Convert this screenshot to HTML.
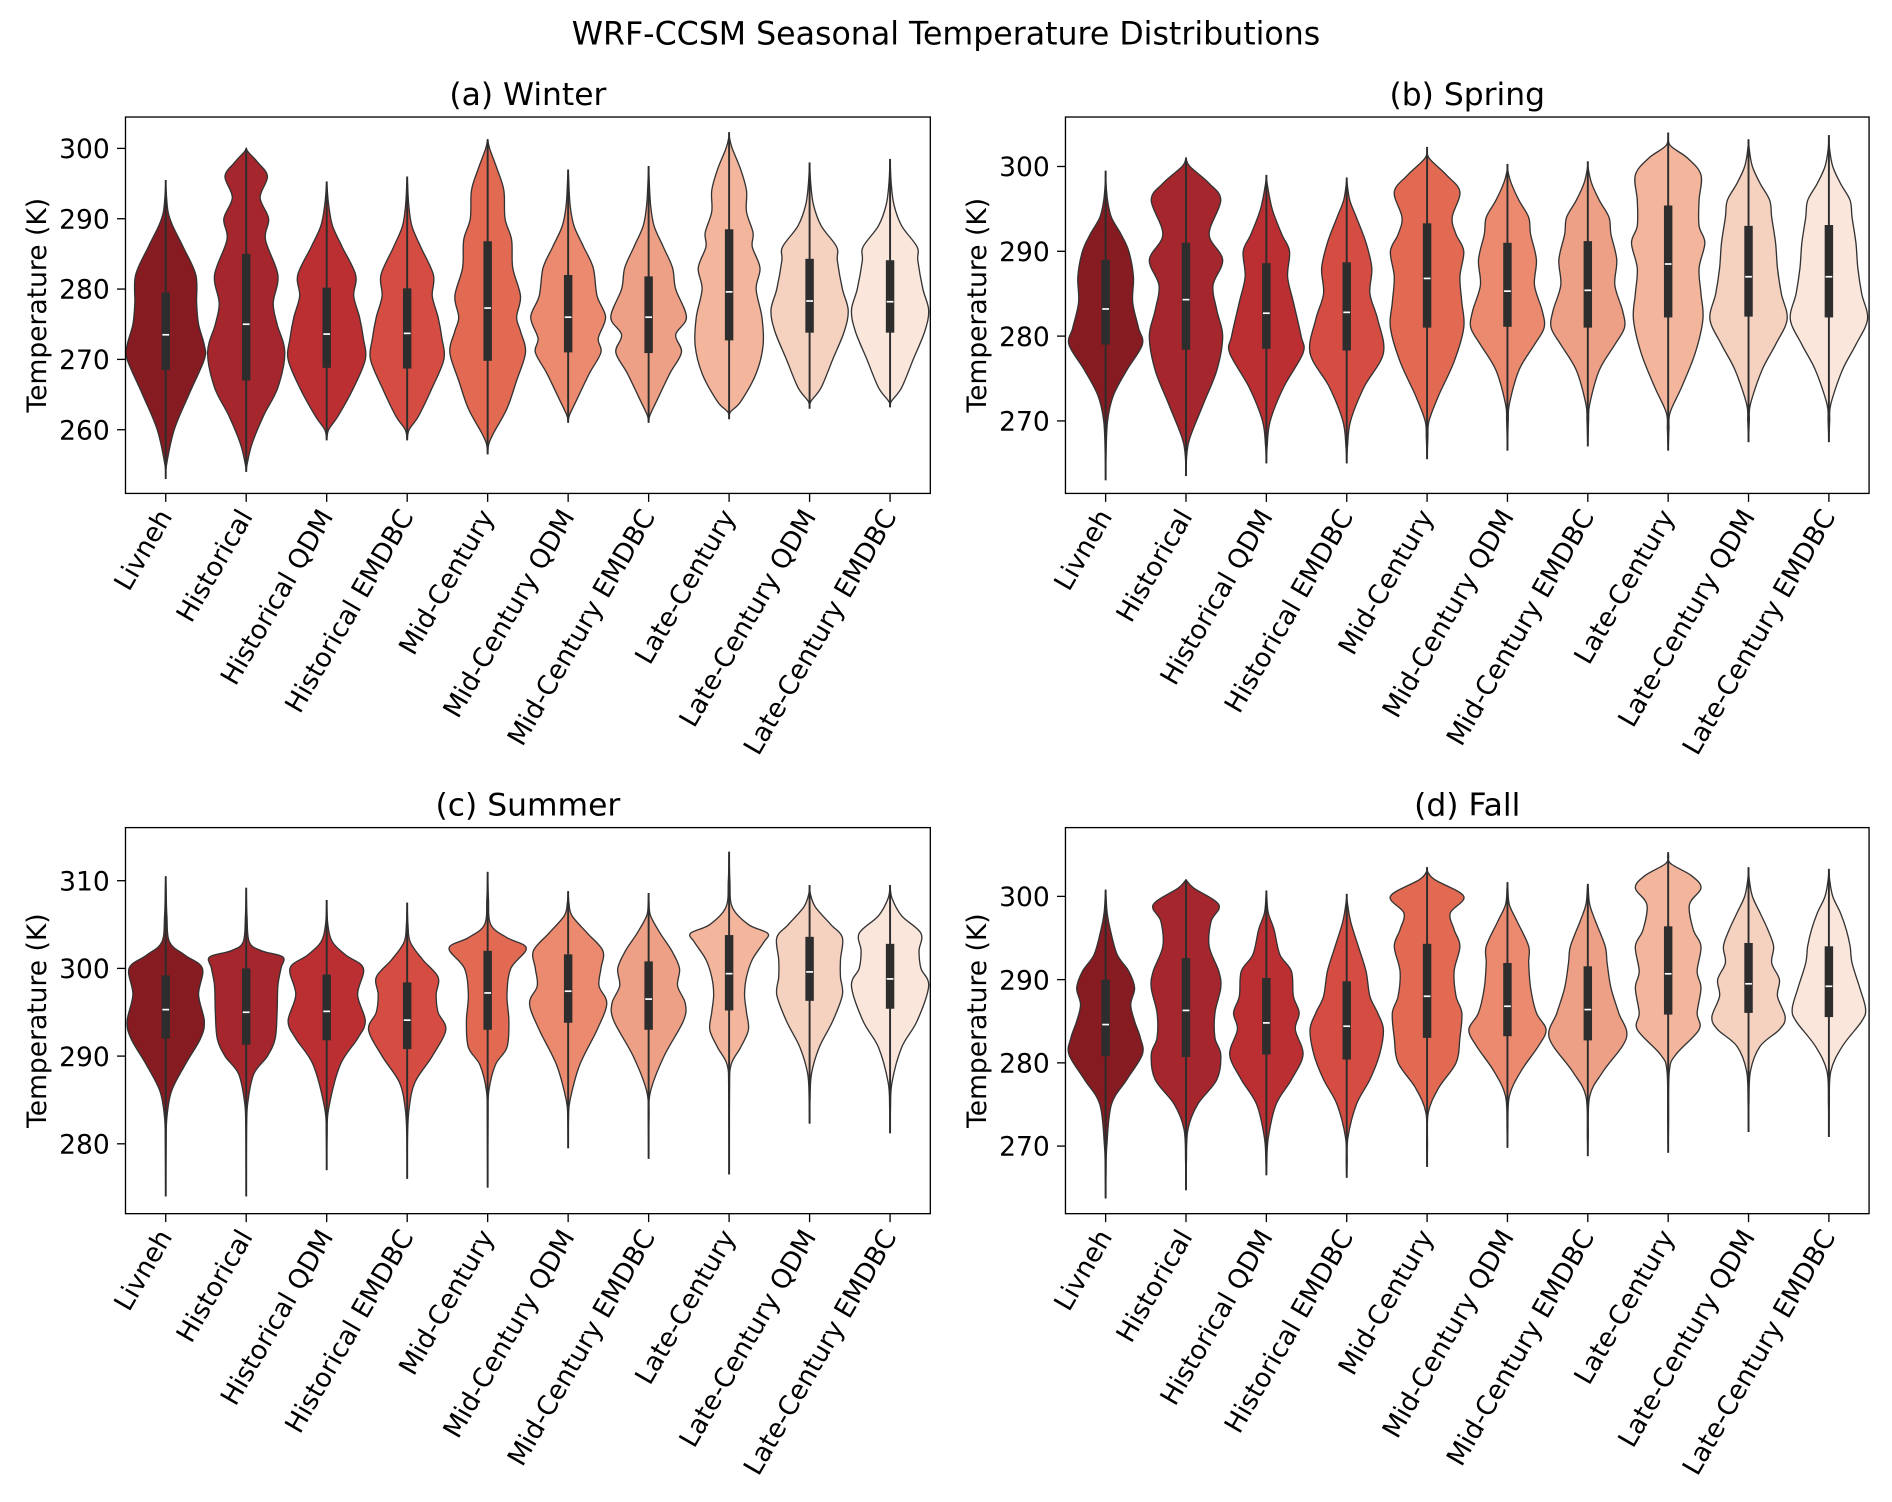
<!DOCTYPE html>
<html><head><meta charset="utf-8"><style>
html,body{margin:0;padding:0;background:#fff}
svg{display:block}
text{font-family:"DejaVu Sans","Liberation Sans",sans-serif;fill:#000}
</style></head><body>
<svg id="fig" width="1892" height="1502" viewBox="0 0 1568 1245" preserveAspectRatio="none" xmlns="http://www.w3.org/2000/svg">
<rect width="1568" height="1245" fill="#fff"/>
<text x="784" y="37" font-size="26.2" text-anchor="middle">WRF-CCSM Seasonal Temperature Distributions</text>
</svg>
<script>
const categories=["Livneh","Historical","Historical QDM","Historical EMDBC","Mid-Century","Mid-Century QDM","Mid-Century EMDBC","Late-Century","Late-Century QDM","Late-Century EMDBC"];
const colors=["#861b22","#a5262d","#bb2f33","#d54c43","#e26a52","#eb8a6e","#eea086","#f3b69c","#f5d1c0","#fbe6dc"];
const panelTitles=["(a) Winter","(b) Spring","(c) Summer","(d) Fall"];
const yTicks=[[260,270,280,290,300],[270,280,290,300],[280,290,300,310],[270,280,290,300]];
// [min, q1, median, q3, max]
const winterStats=[[253,268.5,273.5,279.5,295.5],[254,267,275,285,300],[258.5,268.8,273.6,280.2,295.3],[258.5,268.7,273.7,280.1,296],[256.5,269.8,277.3,286.8,301.3],[261,271,276,282,297],[261,270.9,276,281.8,297.5],[261.5,272.7,279.6,288.5,302.3],[263,273.8,278.3,284.3,298],[263.2,273.8,278.2,284.1,298.5]];
const springStats=[[263,279,283.2,289,299.5],[263.5,278.4,284.3,291,301],[265,278.5,282.7,288.6,299],[265,278.3,282.8,288.7,298.7],[265.5,281,286.8,293.3,302.3],[266.5,281.1,285.3,291,300.3],[267,281,285.4,291.2,300.6],[266.5,282.2,288.5,295.4,304],[267.5,282.3,287,293,303.2],[267.5,282.2,287,293.1,303.7]];
const summerStats=[[274,292,295.3,299.2,310.5],[274,291.3,295,300,309.2],[277,291.8,295.1,299.3,307.8],[276,290.8,294.1,298.4,307.5],[275,293,297.2,302,311],[279.5,293.8,297.4,301.6,308.8],[278.3,293,296.5,300.8,308.6],[276.5,295.2,299.4,303.8,313.3],[282.3,296.3,299.6,303.6,309.5],[281.2,295.4,298.8,302.8,309.5]];
const fallStats=[[263.7,280.8,284.6,290,300.8],[264.7,280.7,286.3,292.6,302],[266.5,281,284.8,290.2,300.7],[266.2,280.4,284.4,289.8,300.3],[267.5,283,288,294.3,303.5],[269.8,283.2,286.8,292,301.7],[268.8,282.7,286.4,291.6,301.5],[269.2,285.8,290.7,296.4,305.3],[271.7,286,289.5,294.4,303.5],[271.1,285.5,289.2,294,303.3]];
// density profiles: [temperature, relative density]
const winterDensity=[
[[255,0.02],[260,0.22],[265,0.6],[270,1.0],[272,1.0],[275,0.85],[278,0.8],[282,0.78],[286,0.45],[289,0.18],[291,0.06],[294,0.01]],
[[255,0.02],[258,0.15],[262,0.45],[266,0.82],[271,1.0],[275,0.8],[278,0.7],[282,0.82],[287,0.5],[290,0.58],[293,0.36],[296,0.55],[298,0.3],[299.5,0.05]],
[[260,0.05],[262,0.3],[266,0.7],[270,1.0],[273,0.95],[276,0.85],[279,0.7],[282,0.75],[286,0.4],[289,0.15],[292,0.05],[294.5,0.01]],
[[260,0.05],[262,0.3],[266,0.65],[270,0.95],[273,0.9],[276,0.8],[279,0.65],[282,0.68],[286,0.35],[289,0.12],[292,0.04],[295,0.01]],
[[258,0.03],[259.5,0.15],[263,0.5],[267,0.75],[271,0.98],[274,0.85],[276,0.75],[279,0.85],[283,0.65],[287,0.62],[290,0.45],[294,0.42],[297,0.25],[300,0.05]],
[[262,0.03],[264,0.2],[268,0.55],[271,0.85],[273,0.78],[276,0.97],[279,0.75],[283,0.65],[286,0.4],[289,0.15],[292,0.05],[296,0.01]],
[[262,0.03],[264,0.2],[268,0.55],[271,0.85],[273.5,0.7],[276,0.98],[280,0.7],[283,0.62],[286,0.38],[289,0.14],[292,0.05],[296,0.01]],
[[262.5,0.03],[264,0.3],[268,0.7],[272,0.88],[276,0.85],[280,0.7],[283,0.8],[286,0.6],[288,0.62],[291,0.45],[294,0.45],[297,0.3],[300,0.08],[301.5,0.01]],
[[264,0.03],[266,0.3],[270,0.6],[274,0.9],[277,1.0],[280,0.85],[284,0.72],[286,0.7],[289,0.3],[292,0.1],[295,0.03]],
[[264,0.03],[266,0.3],[270,0.6],[274,0.9],[277,1.0],[280,0.85],[284,0.72],[286,0.7],[289,0.3],[292,0.1],[295,0.03]]];
const springDensity=[
[[266,0.01],[270,0.05],[273,0.2],[276,0.55],[279,0.95],[281,0.85],[284,0.7],[287,0.72],[290,0.6],[292,0.4],[294,0.15],[296,0.05],[298,0.01]],
[[266,0.02],[268,0.1],[272,0.45],[276,0.8],[280,0.95],[283,0.8],[286,0.7],[289,0.95],[292,0.6],[296,0.9],[298,0.6],[300,0.1]],
[[267,0.02],[270,0.1],[274,0.45],[278,0.95],[280,0.9],[284,0.7],[287,0.55],[290,0.6],[292,0.4],[295,0.15],[298,0.02]],
[[267,0.02],[270,0.1],[274,0.45],[278,0.95],[282,0.8],[285,0.6],[288,0.65],[291,0.5],[294,0.25],[296,0.08],[298,0.01]],
[[268,0.02],[270,0.05],[273,0.3],[277,0.7],[281,0.95],[284,0.9],[287,0.85],[290,0.95],[292,0.75],[294,0.65],[297,0.85],[299,0.5],[301,0.05]],
[[270,0.02],[272,0.05],[276,0.3],[279,0.7],[281,0.95],[283,0.9],[286,0.7],[289,0.75],[292,0.6],[294,0.55],[296,0.3],[298,0.1],[299.5,0.01]],
[[270,0.02],[272,0.05],[276,0.3],[279,0.7],[281,0.95],[283,0.9],[286,0.7],[289,0.75],[292,0.6],[294,0.55],[296,0.3],[298,0.1],[299.8,0.01]],
[[269,0.02],[271,0.05],[274,0.35],[278,0.7],[282,0.9],[285,0.85],[288,0.8],[291,0.95],[293,0.8],[296,0.8],[299,0.85],[301,0.5],[302.5,0.05]],
[[270,0.02],[272,0.05],[276,0.35],[279,0.7],[282,1.0],[285,0.85],[288,0.75],[291,0.7],[294,0.6],[296,0.55],[298,0.3],[300,0.1],[302,0.02]],
[[270,0.02],[272,0.05],[276,0.35],[279,0.7],[282,1.0],[285,0.85],[288,0.75],[291,0.7],[294,0.6],[296,0.55],[298,0.3],[300,0.1],[302,0.02]]];
const summerDensity=[
[[280,0.01],[283,0.03],[286,0.15],[289,0.5],[292,0.9],[294,1.0],[297,0.85],[300,0.95],[301.5,0.5],[303,0.1],[306,0.03],[309,0.01]],
[[282,0.01],[285,0.05],[288,0.2],[290,0.55],[292,0.75],[295,0.8],[298,0.82],[300,0.9],[301.3,0.95],[302,0.4],[303,0.08],[306,0.02]],
[[281,0.01],[284,0.05],[289,0.35],[292,0.8],[294,1.0],[297,0.8],[300,0.95],[301.5,0.5],[303,0.15],[305,0.03]],
[[281,0.01],[284,0.05],[287,0.2],[290,0.65],[293,1.0],[295,0.8],[297,0.75],[299,0.8],[301,0.4],[303,0.08],[305,0.02]],
[[283,0.01],[286,0.03],[289,0.2],[291,0.5],[294,0.55],[297,0.5],[300,0.6],[302.3,1.0],[303.5,0.5],[305,0.08],[308,0.02]],
[[283,0.01],[285,0.05],[289,0.3],[293,0.75],[296,1.0],[298,0.8],[300,0.85],[302,0.9],[304,0.5],[306,0.1],[307.5,0.02]],
[[283,0.01],[286,0.05],[290,0.4],[294,0.9],[296,0.95],[298,0.75],[300,0.8],[302,0.6],[304,0.3],[306,0.05],[307.5,0.01]],
[[286,0.01],[289,0.05],[291,0.3],[293,0.5],[295,0.45],[297,0.4],[299,0.45],[301,0.6],[303,0.9],[304,1.0],[305,0.5],[307,0.08],[310,0.02]],
[[285,0.01],[288,0.05],[291,0.25],[294,0.6],[297,0.85],[299,0.8],[301,0.8],[303.5,0.85],[305,0.55],[307,0.15],[308.5,0.02]],
[[284,0.01],[287,0.05],[291,0.3],[294,0.7],[298,1.0],[300,0.8],[302,0.75],[304,0.8],[306,0.3],[308,0.05]]];
const fallDensity=[
[[267,0.01],[270,0.03],[275,0.15],[278,0.55],[281,0.95],[283,0.9],[285,0.75],[287,0.65],[289,0.75],[291,0.6],[293,0.3],[296,0.12],[298,0.04],[300,0.01]],
[[268,0.01],[272,0.05],[275,0.3],[278,0.8],[281,0.9],[283,0.75],[286,0.75],[289,0.9],[291,0.85],[294,0.6],[297,0.65],[299,0.85],[301,0.2]],
[[268,0.01],[271,0.05],[275,0.25],[278,0.65],[281,0.95],[284,0.75],[286,0.85],[288,0.7],[291,0.65],[293,0.35],[296,0.2],[298,0.05],[300,0.01]],
[[268,0.01],[271,0.03],[275,0.25],[278,0.6],[281,0.85],[284,0.95],[286,0.8],[288,0.6],[291,0.5],[294,0.3],[297,0.1],[299.5,0.01]],
[[270,0.01],[274,0.03],[277,0.3],[280,0.75],[283,0.85],[286,0.9],[288,0.75],[291,0.7],[294,0.85],[296,0.7],[298,0.6],[300,0.95],[302,0.2],[303,0.01]],
[[272,0.01],[276,0.05],[279,0.35],[282,0.8],[284,1.0],[286,0.75],[289,0.6],[292,0.55],[294,0.55],[297,0.25],[299,0.05],[301,0.01]],
[[271,0.01],[276,0.05],[279,0.4],[283,1.0],[286,0.8],[289,0.6],[292,0.5],[294,0.45],[297,0.2],[299,0.05],[301,0.01]],
[[273,0.01],[279,0.03],[281,0.2],[284,0.8],[286,0.75],[289,0.85],[291,0.75],[294,0.85],[296,0.65],[299,0.55],[301,0.85],[302.5,0.6],[304,0.05]],
[[275,0.01],[279,0.05],[282,0.3],[284,0.8],[285.5,0.95],[288,0.75],[290,0.8],[292,0.6],[294,0.65],[296,0.5],[298,0.3],[300,0.1],[302,0.02]],
[[275,0.01],[279,0.05],[282,0.35],[285,0.85],[286.5,0.95],[289,0.8],[292,0.6],[294,0.55],[296,0.45],[298,0.3],[300,0.1],[302,0.02]]];

const NS="http://www.w3.org/2000/svg";
const svg=document.getElementById('fig');
const panels=[
 {x0:104,x1:771,y0:97,y1:409,refT:300,refY:123,per10:58.3,stats:winterStats,dens:winterDensity,ticks:yTicks[0],title:panelTitles[0],key:'winter'},
 {x0:883,x1:1549,y0:97,y1:409,refT:300,refY:138,per10:70.3,stats:springStats,dens:springDensity,ticks:yTicks[1],title:panelTitles[1],key:'spring'},
 {x0:104,x1:771,y0:686,y1:1006,refT:310,refY:730,per10:72.7,stats:summerStats,dens:summerDensity,ticks:yTicks[2],title:panelTitles[2],key:'summer'},
 {x0:883,x1:1549,y0:686,y1:1006,refT:300,refY:743,per10:69,stats:fallStats,dens:fallDensity,ticks:yTicks[3],title:panelTitles[3],key:'fall'}];
function mk(tag,attrs,parent){const e=document.createElementNS(NS,tag);for(const k in attrs)e.setAttribute(k,attrs[k]);(parent||svg).appendChild(e);return e;}
function smooth(pts){let d='M'+pts[0][0].toFixed(2)+','+pts[0][1].toFixed(2);
 for(let i=0;i<pts.length-1;i++){const p0=pts[Math.max(0,i-1)],p1=pts[i],p2=pts[i+1],p3=pts[Math.min(pts.length-1,i+2)];
 const c1=[p1[0]+(p2[0]-p0[0])/6,p1[1]+(p2[1]-p0[1])/6],c2=[p2[0]-(p3[0]-p1[0])/6,p2[1]-(p3[1]-p1[1])/6];
 d+=' C'+c1[0].toFixed(2)+','+c1[1].toFixed(2)+' '+c2[0].toFixed(2)+','+c2[1].toFixed(2)+' '+p2[0].toFixed(2)+','+p2[1].toFixed(2);}
 return d;}
const HALF=32;
panels.forEach(P=>{
 const g=mk('g',{});
 
 
 const yS=t=>P.refY+(P.refT-t)*P.per10/10;
 const step=(P.x1-P.x0)/categories.length;
 const xS=i=>P.x0+step*(i+0.5);
 const tt=mk('text',{x:(P.x0+P.x1)/2,y:P.y0-10,'font-size':26,'text-anchor':'middle'},g);
 tt.textContent=P.title;
 
 
 P.stats.forEach((s,i)=>{
  const cx=xS(i);const d=P.dens[i];
  const right=[[cx,yS(s[0])]].concat(d.map(p=>[cx+p[1]*HALF,yS(p[0])])).concat([[cx,yS(s[4])]]);
  const left=right.slice().reverse().map(p=>[2*cx-p[0],p[1]]);
  const path=smooth(right)+' '+smooth(left).replace('M','L')+' Z';
  const v=mk('path',{d:path,fill:colors[i],stroke:'#333','stroke-width':1.1},g);
  
  
  const w=mk('line',{x1:cx,x2:cx,y1:yS(s[0]),y2:yS(s[4]),stroke:'#2d2d2d','stroke-width':1.6},g);
  
  
  const b=mk('rect',{x:cx-3.5,width:7,y:yS(s[3]),height:yS(s[1])-yS(s[3]),fill:'#2d2d2d'},g);
  
  
  const m=mk('line',{x1:cx-2.8,x2:cx+2.8,y1:yS(s[2]),y2:yS(s[2]),stroke:'#fff','stroke-width':1.4},g);
  
  
  const tk=mk('line',{x1:cx,x2:cx,y1:P.y1,y2:P.y1+7,stroke:'#000','stroke-width':1.1},g);
  
  
  const lb=mk('text',{'font-size':22,'text-anchor':'end',transform:'translate('+(cx+6)+','+(P.y1+19)+') rotate(-60)'},g);
  lb.textContent=categories[i];
  
  
 });
 P.ticks.forEach(t=>{
  const y=yS(t);
  const tk=mk('line',{x1:P.x0-7,x2:P.x0,y1:y,y2:y,stroke:'#000','stroke-width':1.1},g);
  
  
  const lb=mk('text',{x:P.x0-13,y:y+8,'font-size':22,'text-anchor':'end'},g);
  lb.textContent=t;
  
  
 });
 const fr=mk('rect',{x:P.x0,y:P.y0,width:P.x1-P.x0,height:P.y1-P.y0,fill:'none',stroke:'#000','stroke-width':1.1},g);
 
 
 const cy=(P.y0+P.y1)/2, lx=P.x0-66;
 const yl=mk('text',{'font-size':22,'text-anchor':'middle',transform:'translate('+lx+','+cy+') rotate(-90)'},g);
 yl.textContent='Temperature (K)';
 
 
});
</script>
</body></html>
